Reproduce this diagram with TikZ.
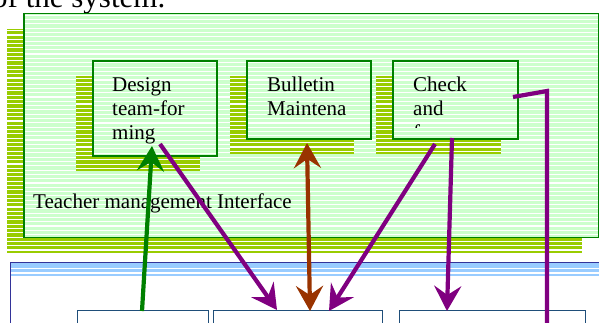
\documentclass[tikz,border=0pt]{standalone}
\usepackage{fontspec}
\setmainfont{Liberation Serif}
\usetikzlibrary{arrows.meta}

\definecolor{panelgreen}{HTML}{CCFFCC}
\definecolor{shadegreen}{HTML}{99CC00}
\definecolor{edgegreen}{HTML}{008000}
\definecolor{bandblue}{HTML}{99CCFF}
\definecolor{edgeblue}{HTML}{333399}
\definecolor{boxblue}{HTML}{1F4E79}
\definecolor{linkpurple}{HTML}{800080}
\definecolor{linkbrown}{HTML}{993300}
\definecolor{linkgreen}{HTML}{008000}

\begin{document}
\begin{tikzpicture}[
    x = 1pt, y = -1pt,
    >={Stealth[length=25pt, width=27pt, inset=9pt]},
    % Named styles
    stripes/.style = {path picture={
        \foreach \i in {0,...,60}
          \draw[white, line width=1.1pt]
            ([yshift=-\i*4.3pt-2pt]path picture bounding box.north west) --
            ([yshift=-\i*4.3pt-2pt]path picture bounding box.north east);}},
    band/.style    = {path picture={
        \fill[bandblue] (path picture bounding box.north west)
            rectangle ([yshift=-13pt]path picture bounding box.north east);
        \foreach \d in {6,10.2}
          \draw[white, line width=1.2pt]
            ([yshift=-\d pt]path picture bounding box.north west) --
            ([yshift=-\d pt]path picture bounding box.north east);}},
    frame/.style   = {draw=edgegreen, line width=1.6pt, fill=panelgreen, stripes,
                      inner sep=0pt, anchor=north west},
    shade/.style   = {fill=shadegreen, stripes, inner sep=0pt, anchor=north west},
    module/.style  = {draw=boxblue, line width=1.4pt, fill=white,
                      inner sep=0pt, anchor=north west, minimum height=40pt},
    tag/.style     = {font=\fontsize{21}{24.3}\selectfont, align=left,
                      anchor=base west, inner sep=0pt},
    link/.style    = {line width=4.2pt},
]
\useasboundingbox (0,0) rectangle (599,322);

% ── Heading line, cut by the page top ────────────────────────────────────────
\node[font=\fontsize{31}{36}\selectfont, anchor=base west, inner sep=0pt]
    (intro) at (-8,7.5) {of the system.};

% ── Teacher management panel ─────────────────────────────────────────────────
\node[shade, minimum width=575pt, minimum height=224pt] (panel-sh) at (7,28.5) {};
\node[frame, minimum width=575pt, minimum height=224pt] (panel) at (23,12.5) {};
\node[tag] (panel-txt) at (33,208) {Teacher management Interface};

% Inner boxes with their shadows
\node[shade, minimum width=124pt, minimum height=95pt] (design-sh)   at (76,76)  {};
\node[frame, minimum width=124pt, minimum height=95pt] (design)      at (92,60)  {};
\node[shade, minimum width=124pt, minimum height=78pt] (bulletin-sh) at (230,76) {};
\node[frame, minimum width=124pt, minimum height=78pt] (bulletin)    at (246,60) {};
\node[shade, minimum width=125pt, minimum height=78pt] (check-sh)    at (376,76) {};
\node[frame, minimum width=125pt, minimum height=78pt] (check)       at (392,60) {};

% (base anchor = baseline of the last line)
\node[tag] (design-txt)   at (112,139.6) {Design\\team-for\\ming};
\node[tag] (bulletin-txt) at (267,115.3) {Bulletin\\Maintena};
\begin{scope}
  \clip (392,60) rectangle (517,127.5);
  \node[tag] (check-txt) at (413,139.6) {Check\\and\\f};
\end{scope}

% ── Lower panel ──────────────────────────────────────────────────────────────
\node[draw=edgeblue, line width=1.4pt, fill=white, band, inner sep=0pt,
      anchor=north west, minimum width=620pt, minimum height=90pt]
    (platform) at (10,262) {};

\node[module, minimum width=131pt] (group)  at (77,310)  {};
\node[module, minimum width=169pt] (notice) at (213,310) {};
\node[module, minimum width=186pt] (score)  at (399,310) {};

% ── Connectors ───────────────────────────────────────────────────────────────
\coordinate (group-out)    at (142,311);
\coordinate (design-in)    at (152,146);
\coordinate (design-out)   at (160,144);
\coordinate (notice-left)  at (277,310);
\coordinate (bulletin-end) at (307,143);
\coordinate (notice-mid)   at (310,311);
\coordinate (check-out)    at (435,144);
\coordinate (notice-right) at (329,311);
\coordinate (check-down)   at (452,138);
\coordinate (score-in)     at (447,311);
\coordinate (check-side)   at (513,97);
\coordinate (bend)         at (547,91);
\coordinate (score-down)   at (547,330);

\draw[link, ->, linkgreen]   (group-out) -- (design-in);
\draw[link, ->, linkpurple]  (design-out) -- (notice-left);
\draw[link, <->, linkbrown]  (bulletin-end) -- (notice-mid);
\draw[link, ->, linkpurple]  (check-out) -- (notice-right);
\draw[link, ->, linkpurple]  (check-down) -- (score-in);
\draw[link, linkpurple]      (check-side) -- (bend) -- (score-down);

\end{tikzpicture}
\end{document}
